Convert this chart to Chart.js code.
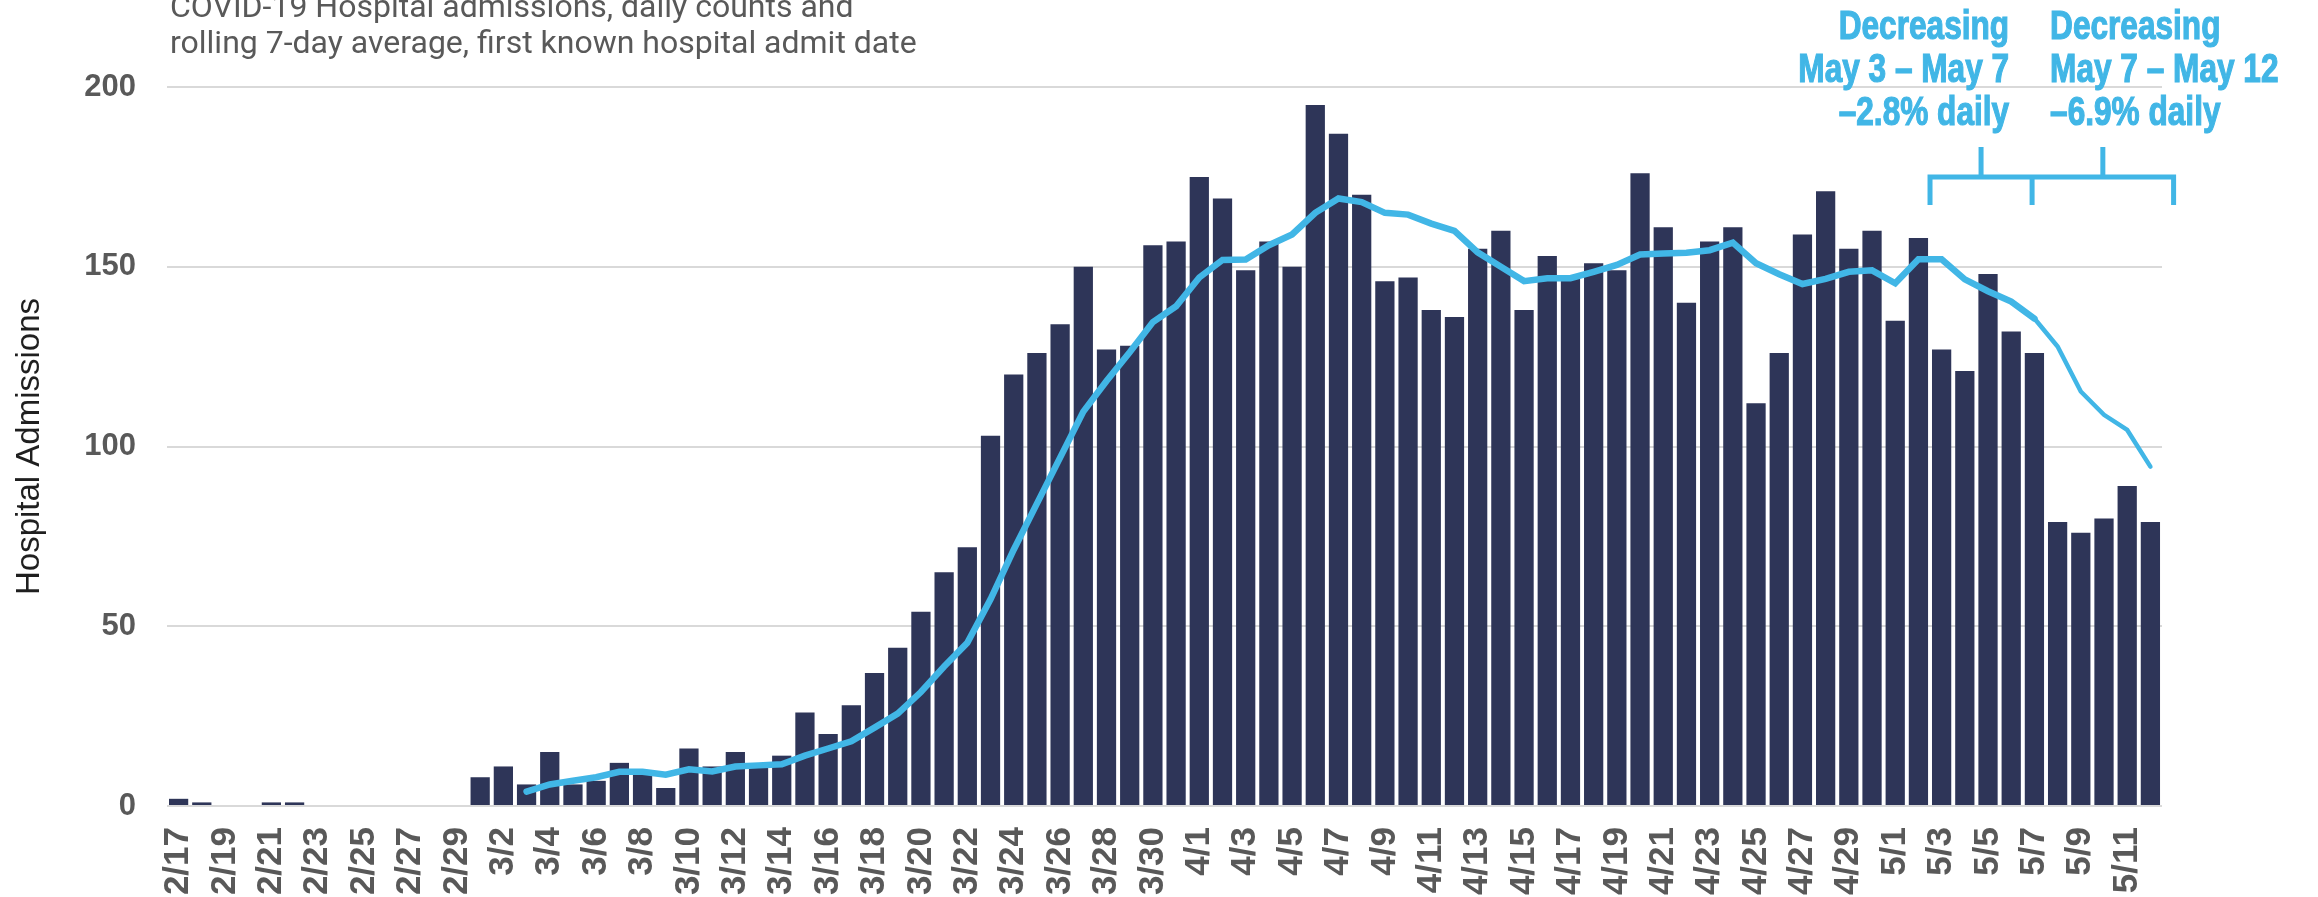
<!DOCTYPE html>
<html>
<head>
<meta charset="utf-8">
<script src="https://cdn.jsdelivr.net/npm/chart.js@4.4.1/dist/chart.umd.min.js"></script>
<style>
  html, body { margin: 0; padding: 0; background: #fff; }
  #wrap { width: 2318px; height: 897px; position: relative; }
</style>
</head>
<body>
<div id="wrap"><canvas id="myChart"></canvas></div>
<script>
"use strict";

const dates = [
    '2/17', '2/18', '2/19', '2/20', '2/21', '2/22', '2/23', '2/24', '2/25', '2/26', '2/27', '2/28', '2/29',
    '3/1', '3/2', '3/3', '3/4', '3/5', '3/6', '3/7', '3/8', '3/9', '3/10', '3/11', '3/12', '3/13', '3/14', '3/15',
    '3/16', '3/17', '3/18', '3/19', '3/20', '3/21', '3/22', '3/23', '3/24', '3/25', '3/26', '3/27', '3/28', '3/29',
    '3/30', '3/31',
    '4/1', '4/2', '4/3', '4/4', '4/5', '4/6', '4/7', '4/8', '4/9', '4/10', '4/11', '4/12', '4/13', '4/14', '4/15',
    '4/16', '4/17', '4/18', '4/19', '4/20', '4/21', '4/22', '4/23', '4/24', '4/25', '4/26', '4/27', '4/28', '4/29',
    '4/30',
    '5/1', '5/2', '5/3', '5/4', '5/5', '5/6', '5/7', '5/8', '5/9', '5/10', '5/11', '5/12'
];

const admissions = [
    2, 1, 0, 0, 1, 1, 0, 0, 0, 0, 0, 0, 0,
    8, 11, 6, 15, 6, 7, 12, 9, 5, 16, 11, 15, 11, 14, 26,
    20, 28, 37, 44, 54, 65, 72, 103, 120, 126, 134, 150, 127, 128,
    156, 157,
    175, 169, 149, 157, 150, 195, 187, 170, 146, 147, 138, 136, 155, 160, 138,
    153, 147, 151, 149, 176, 161, 140, 157, 161, 112, 126, 159, 171, 155,
    160,
    135, 158, 127, 121, 148, 132, 126, 79, 76, 80, 89, 79
];

const rollingAvg = [
    null, null, null, null, null, null, null, null, null, null, null, null, null,
    null, null, 4.0, 6.0, 7.0, 8.0, 9.5, 9.5, 8.7, 10.2, 9.6, 11.0, 11.3, 11.6, 14.0,
    16.0, 18.0, 21.8, 25.7, 31.7, 38.8, 45.4, 57.5, 71.3, 84.1, 96.9, 109.7, 118.2, 126.2,
    134.6, 139.0,
    147.0, 151.9, 152.0, 156.0, 159.0, 165.0, 169.0, 168.0, 165.0, 164.5, 162.0, 160.0, 154.0, 150.0, 146.0,
    146.8, 146.8, 148.6, 150.5, 153.4, 153.7, 153.9, 154.6, 156.7, 151.0, 147.9, 145.2, 146.6, 148.6,
    149.0,
    145.4, 152.1, 152.1, 146.5, 143.2, 140.3, 135.6, 127.8, 115.3, 108.8, 104.6, 94.4
];

const yTicks = [0, 50, 100, 150, 200];

const titleLines = [
    'COVID-19 Hospital admissions, daily counts and',
    'rolling 7-day average, first known hospital admit date'
];

const notes = [
    ['Decreasing', 'May 3 \u2013 May 7', '\u20132.8% daily'],
    ['Decreasing', 'May 7 \u2013 May 12', '\u20136.9% daily']
];

const ctx = document.getElementById('myChart');

const headerPlugin = {
    id: 'header',
    afterDraw(chart) {
        const c = chart.ctx;
        const xs = chart.scales.x;
        c.save();

        // subtitle, top line runs off the canvas like the original
        c.fillStyle = '#595959';
        c.font = '32px Roboto';
        c.textAlign = 'left';
        c.textBaseline = 'alphabetic';
        titleLines.forEach((t, i) => c.fillText(t, 170, 17 + i * 36));

        // bracket over the last two weeks
        const step = xs.getPixelForValue(1) - xs.getPixelForValue(0);
        const px = (v) => xs.getPixelForValue(0) + v * step;
        const left = px(75.5), mid = px(79.9), right = px(86);
        c.strokeStyle = '#41b6e6';
        c.lineWidth = 5;
        c.lineJoin = 'miter';
        c.beginPath();
        c.moveTo(left, 205); c.lineTo(left, 177); c.lineTo(right, 177); c.lineTo(right, 205);
        c.moveTo(mid, 177); c.lineTo(mid, 205);
        c.moveTo((left + mid) / 2, 177); c.lineTo((left + mid) / 2, 147);
        c.moveTo((mid + right) / 2, 177); c.lineTo((mid + right) / 2, 147);
        c.stroke();

        // condensed heavy text: squeeze Liberation Sans bold and thicken a bit
        const sx = 0.79;
        c.fillStyle = '#41b6e6';
        c.lineWidth = 1.2;
        c.font = 'bold 40px "Liberation Sans", Arial, sans-serif';
        c.scale(sx, 1);
        const put = (t, x, y) => { c.fillText(t, x, y); c.strokeText(t, x, y); };
        c.textAlign = 'right';
        notes[0].forEach((t, i) => put(t, (mid - 23) / sx, 39 + i * 43));
        c.textAlign = 'left';
        notes[1].forEach((t, i) => put(t, (mid + 18) / sx, 39 + i * 43));
        c.restore();
    }
};

const chart = new Chart(ctx, {
    data: {
        labels: dates,
        datasets: [
            {
                type: 'line',
                data: rollingAvg,
                borderColor: '#41b6e6',
                borderWidth: 6.5,
                pointRadius: 0,
                tension: 0,
                borderCapStyle: 'round',
                borderJoinStyle: 'miter',
                spanGaps: false,
                order: 0,
                segment: {
                    borderWidth: (s) => s.p0DataIndex >= 80 ? 4.5 : 6.5
                }
            },
            {
                type: 'bar',
                data: admissions,
                backgroundColor: '#2e3558',
                categoryPercentage: 1,
                barPercentage: 0.83,
                order: 1
            }
        ]
    },
    options: {
        responsive: true,
        maintainAspectRatio: false,
        animation: false,
        layout: {
            padding: { left: 0, top: 87, right: 156, bottom: 0 }
        },
        plugins: {
            legend: { display: false },
            tooltip: { enabled: false }
        },
        scales: {
            x: {
                grid: { display: false },
                border: { display: false },
                afterFit(scale) { scale.height = 91; },
                ticks: {
                    autoSkip: false,
                    minRotation: 90,
                    maxRotation: 90,
                    padding: 13,
                    color: '#595959',
                    font: { family: '"Liberation Sans", Arial, sans-serif', size: 35, weight: 'bold' },
                    callback(val, i) { return i % 2 === 0 ? dates[i] : ''; }
                }
            },
            y: {
                min: 0,
                max: 200,
                afterFit(scale) { scale.width = 167; },
                afterBuildTicks(scale) { scale.ticks = yTicks.map(v => ({ value: v })); },
                grid: { color: '#d9d9d9', lineWidth: 2, drawTicks: false },
                border: { display: false },
                ticks: {
                    padding: 31,
                    color: '#595959',
                    font: { family: '"Liberation Sans", Arial, sans-serif', size: 31, weight: 'bold' }
                },
                title: {
                    display: true,
                    text: 'Hospital Admissions',
                    color: '#1f1f1f',
                    padding: { top: 10, bottom: 0 },
                    font: { family: '"Liberation Sans", Arial, sans-serif', size: 33 }
                }
            }
        }
    },
    plugins: [headerPlugin]
});
</script>
</body>
</html>
